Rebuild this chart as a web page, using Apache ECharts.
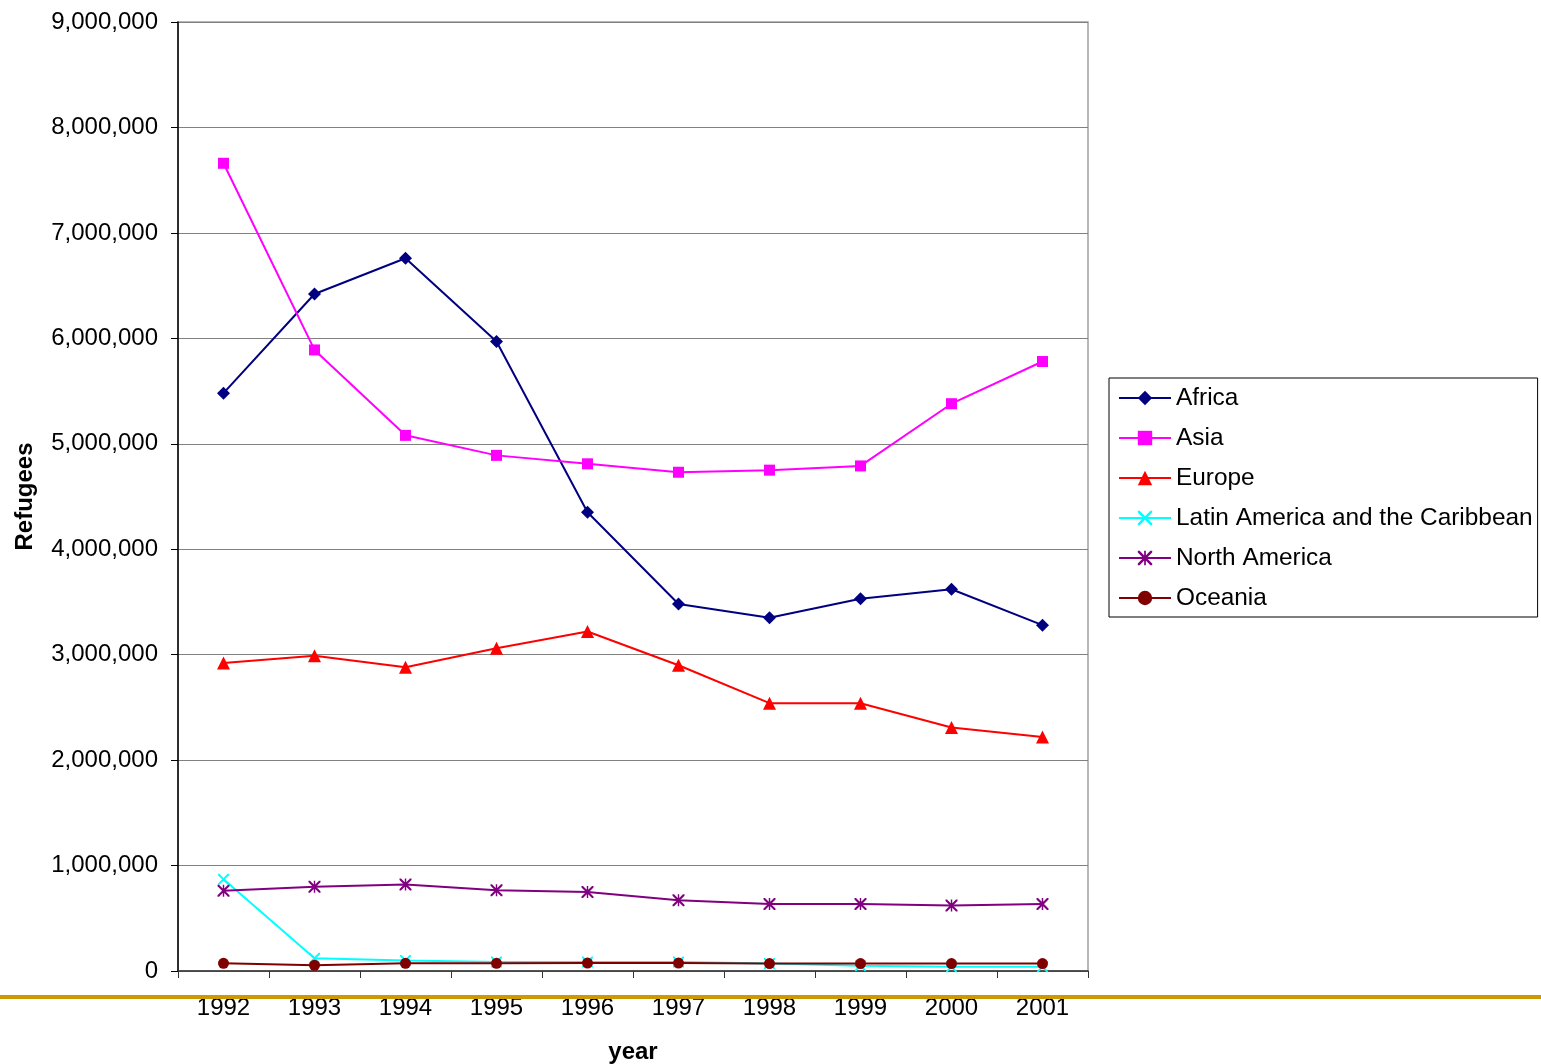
<!DOCTYPE html>
<html>
<head>
<meta charset="utf-8">
<script src="https://cdn.jsdelivr.net/npm/echarts@6/dist/echarts.min.js"></script>
<style>
html,body{margin:0;padding:0;background:#fff;}
#chart{width:1541px;height:1064px;}
</style>
</head>
<body>
<div id="chart"></div>
<script>
const years = ['1992','1993','1994','1995','1996','1997','1998','1999','2000','2001'];
const africa = [5480000, 6420000, 6760000, 5970000, 4350000, 3480000, 3350000, 3530000, 3620000, 3280000];
const asia = [7660000, 5890000, 5080000, 4890000, 4810000, 4730000, 4750000, 4790000, 5380000, 5780000];
const europe = [2920000, 2990000, 2880000, 3060000, 3220000, 2900000, 2540000, 2540000, 2310000, 2220000];
const latinAmerica = [870000, 120000, 100000, 85000, 85000, 85000, 70000, 50000, 40000, 40000];
const northAmerica = [760000, 800000, 820000, 765000, 750000, 670000, 635000, 635000, 620000, 635000];
const oceania = [73000, 54000, 73000, 73000, 75000, 75000, 70000, 70000, 70000, 70000];
const seriesNames = ['Africa','Asia','Europe','Latin America and the Caribbean','North America','Oceania'];

const FONT = 'Liberation Sans, Arial, sans-serif';
const xPath = 'path://M0,0 L2.5,0 L10,7.5 L17.5,0 L20,0 L20,2.5 L12.5,10 L20,17.5 L20,20 L17.5,20 L10,12.5 L2.5,20 L0,20 L0,17.5 L7.5,10 L0,2.5 Z';
const starPath = 'path://M0,0 L2.5,0 L10,7.5 L17.5,0 L20,0 L20,2.5 L12.5,10 L20,17.5 L20,20 L17.5,20 L10,12.5 L2.5,20 L0,20 L0,17.5 L7.5,10 L0,2.5 Z M8.8,0 L11.2,0 L11.2,20 L8.8,20 Z';

function mk(name, data, color, symbol, size) {
  return {
    name: name, type: 'line', data: data,
    symbol: symbol, symbolSize: size, showSymbol: true,
    lineStyle: {color: color, width: 2},
    itemStyle: {color: color},
    emphasis: {disabled: true},
    animation: false
  };
}

const chart = echarts.init(document.getElementById('chart'), null, {renderer: 'canvas'});
chart.setOption({
  backgroundColor: '#ffffff',
  animation: false,
  grid: {left: 178, right: 453, top: 22, bottom: 93, containLabel: false, outerBoundsMode: 'none',
    show: true, borderColor: '#a0a0a0', borderWidth: 1.5, backgroundColor: 'transparent'},
  legend: {
    orient: 'vertical', left: 1109, top: 378,
    padding: [8, 5, 7, 9],
    itemGap: 16, itemWidth: 52, itemHeight: 18,
    borderColor: '#000', borderWidth: 1,
    textStyle: {fontFamily: FONT, fontSize: 24.4, color: '#000'},
    data: seriesNames
  },
  xAxis: {
    type: 'category', data: years, boundaryGap: true,
    name: 'year', nameLocation: 'middle', nameGap: 69,
    nameTextStyle: {fontFamily: FONT, fontSize: 24, fontWeight: 'bold', color: '#000'},
    axisLine: {lineStyle: {color: '#333', width: 1.5}},
    axisTick: {show: true, interval: 0, length: 7, lineStyle: {color: '#333'}},
    axisLabel: {fontFamily: FONT, fontSize: 24, color: '#000', margin: 25, interval: 0},
    splitLine: {show: false}
  },
  yAxis: {
    type: 'value', min: 0, max: 9000000, interval: 1000000,
    name: 'Refugees', nameLocation: 'middle', nameGap: 141, nameRotate: 90,
    nameTextStyle: {fontFamily: FONT, fontSize: 24, fontWeight: 'bold', color: '#000'},
    axisLine: {show: true, lineStyle: {color: '#000', width: 1.5}},
    axisTick: {show: true, length: 7, lineStyle: {color: '#000'}},
    axisLabel: {fontFamily: FONT, fontSize: 24, color: '#000', margin: 20,
      formatter: v => v.toLocaleString('en-US')},
    splitLine: {show: true, lineStyle: {color: '#808080', width: 1}}
  },
  graphic: [{
    type: 'rect', left: 0, top: 995, z: 100,
    shape: {width: 1541, height: 4},
    style: {fill: '#CC9900'}
  }],
  series: [
    mk(seriesNames[0], africa, '#000080', 'diamond', 13),
    mk(seriesNames[1], asia, '#FF00FF', 'rect', 11),
    mk(seriesNames[2], europe, '#FF0000', 'triangle', 13),
    mk(seriesNames[3], latinAmerica, '#00FFFF', xPath, 11),
    mk(seriesNames[4], northAmerica, '#800080', starPath, 12),
    mk(seriesNames[5], oceania, '#800000', 'circle', 11)
  ]
});
</script>
</body>
</html>
